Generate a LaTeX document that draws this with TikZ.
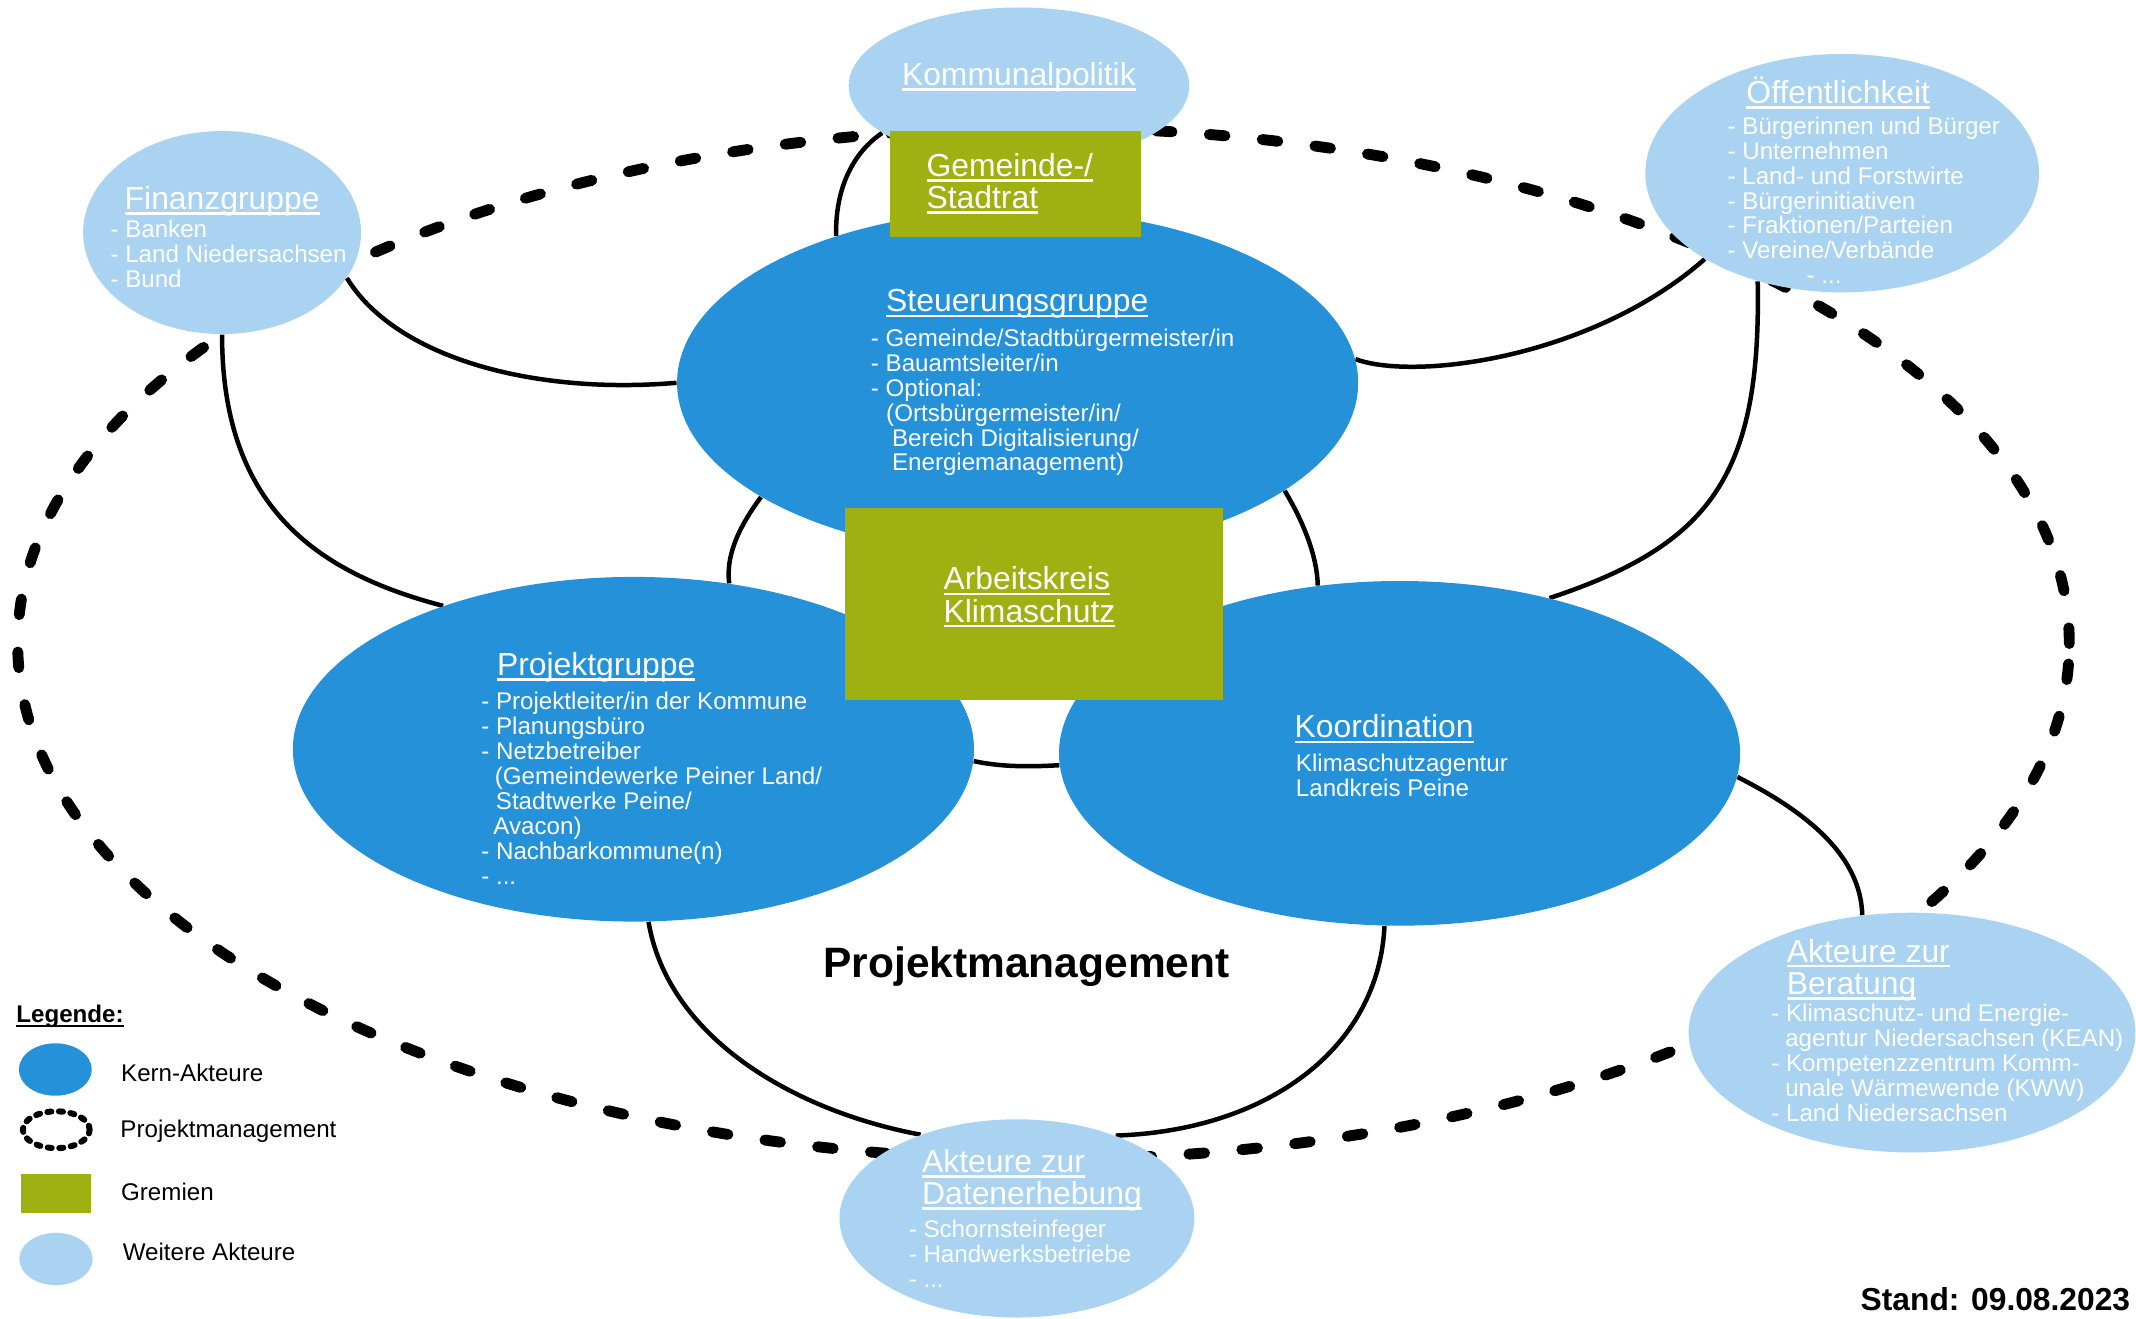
\documentclass[tikz,border=0pt]{standalone}
\usepackage{fontspec}
\setmainfont{Liberation Sans}
\usepackage{xcolor}
\usepackage{tikz}
\usetikzlibrary{shapes.geometric,backgrounds}

\newcommand{\hdul}[1]{\setbox0\hbox{#1}\rlap{\rule[-0.17em]{\wd0}{0.08em}}\box0}
\newcommand{\headfont}{\fontsize{13.31pt}{13.49pt}\selectfont}
\newcommand{\itemfont}{\fontsize{10.08pt}{10.41pt}\selectfont}

\begin{document}
\begin{tikzpicture}[
  x=0.2mm,y=-0.2mm,
  kern/.style={ellipse,fill=kernblue,inner sep=0pt},
  weitere/.style={ellipse,fill=weiterblue,inner sep=0pt},
  gremium/.style={rectangle,fill=gremiumgreen,inner sep=0pt},
  head/.style={anchor=base west,inner sep=0pt,text=white,align=left,font=\headfont},
  items/.style={anchor=base west,inner sep=0pt,text=white,align=left,font=\itemfont},
  legtext/.style={anchor=base west,inner sep=0pt,font=\itemfont},
  link/.style={line width=0.66mm},
  pm/.style={line width=1.6mm,line cap=round,dash pattern=on 2.3mm off 5.5mm}]

  \definecolor{kernblue}{HTML}{2491D9}
  \definecolor{weiterblue}{HTML}{A9D3F0}
  \definecolor{gremiumgreen}{HTML}{9FB013}

  \useasboundingbox (0,0) rectangle (1568,968);

  % ------------------- actors ----------------------
  \node[weitere,minimum width=50mm,minimum height=23mm]     (kommunal) at (748,63) {};
  \node[kern,minimum width=100mm,minimum height=50.8mm]     (steuer)   at (747,281) {};
  \node[gremium,minimum width=36.8mm,minimum height=15.6mm] (gemeinde) at (745.6,134.8) {};
  \node[kern,minimum width=100mm,minimum height=50.6mm]     (projekt)  at (465,550) {};
  \node[kern,minimum width=100mm,minimum height=50.6mm]     (koord)    at (1027.4,553) {};
  \node[gremium,minimum width=55.5mm,minimum height=28.1mm] (arbeit)   at (759,443.5) {};
  \node[weitere,minimum width=40.8mm,minimum height=29.8mm] (finanz)   at (163,170.7) {};
  \node[weitere,minimum width=57.8mm,minimum height=35mm]   (oeff)     at (1352.3,127.1) {};
  \node[weitere,minimum width=65.6mm,minimum height=35.2mm] (beratung) at (1403.6,758) {};
  \node[weitere,minimum width=52.1mm,minimum height=29.1mm] (daten)    at (746.5,894.4) {};

  % ------------------- links ----------------------
  \begin{scope}[on background layer]
    \draw[link] (finanz.-20.5) .. controls (290,262) and (390,290) .. (steuer.180);
    \draw[link] (finanz.south) .. controls (163,370) and (230,420) .. (projekt.143.3);
    \draw[link] (kommunal.-161) .. controls (622,115) and (613,145) .. (steuer.141);
    \draw[link] (steuer.4) .. controls (1040,280) and (1170,262) .. (oeff.-148);
    \draw[link] (oeff.-128) .. controls (1293,350) and (1255,400) .. (koord.46.4);
    \draw[link] (steuer.-156) .. controls (540,390) and (533,410) .. (projekt.60.5);
    \draw[link] (steuer.-22.5) .. controls (958,385) and (967,410) .. (koord.116.2);
    \draw[link] (projekt.-2) .. controls (735,563) and (755,563) .. (koord.-178.6);
    \draw[link] (projekt.-85) .. controls (490,760) and (580,815) .. (daten.139.3);
    \draw[link] (koord.-95.6) .. controls (1012,770) and (930,830) .. (daten.40.9);
    \draw[link] (koord.-4.7) .. controls (1330,598) and (1366,630) .. (beratung.113.3);

    \draw[pm] (766,472.4) ellipse [x radius=150.6mm,y radius=75.72mm];
  \end{scope}

  % ------------------- texts (placed at the baseline of the last line) ----------------------
  \node[head] (kommunaltitle) at (661.8,62.5) {\hdul{Kommunalpolitik}};
  \node[head] (gemeindetitle) at (679.8,153) {\hdul{Gemeinde-/}\\\hdul{Stadtrat}};

  \node[head]  (finanztitle) at (91.2,153.5) {\hdul{Finanzgruppe}};
  \node[items] (finanzlist)  at (80.8,210.8) {- Banken\\- Land Niedersachsen\\- Bund};

  \node[head]  (oefftitle) at (1281.7,75.8) {\hdul{Öffentlichkeit}};
  \node[items] (oefflist)  at (1267.9,208.3) {- Bürgerinnen und Bürger\\- Unternehmen\\- Land- und Forstwirte\\- Bürgerinitiativen\\- Fraktionen/Parteien\\- Vereine/Verbände\\\hspace*{11.6mm}- ...};

  \node[head]  (steuertitle) at (650.2,229) {\hdul{Steuerungsgruppe}};
  \node[items] (steuerlist)  at (639,345.7) {- Gemeinde/Stadtbürgermeister/in\\- Bauamtsleiter/in\\- Optional:\\\hspace*{2.24mm}(Ortsbürgermeister/in/\\\hspace*{3.1mm}Bereich Digitalisierung/\\\hspace*{3.1mm}Energiemanagement)};

  \node[head] (arbeittitle) at (692.3,456.6) {\hdul{Arbeitskreis}\\\hdul{Klimaschutz}};

  \node[head]  (projekttitle) at (364.5,495.7) {\hdul{Projektgruppe}};
  \node[items] (projektlist)  at (353,649) {- Projektleiter/in der Kommune\\- Planungsbüro\\- Netzbetreiber\\\hspace*{1.98mm}(Gemeindewerke Peiner Land/\\\hspace*{2.14mm}Stadtwerke Peine/\\\hspace*{1.78mm}Avacon)\\- Nachbarkommune(n)\\- ...};

  \node[head]  (koordtitle) at (950,541.5) {\hdul{Koordination}};
  \node[items] (koordlist)  at (951,584.4) {Klimaschutzagentur\\Landkreis Peine};

  \node[head]  (beratungtitle) at (1311.4,729.9) {\hdul{Akteure zur}\\\hdul{Beratung}};
  \node[items] (beratunglist)  at (1300,822.9) {- Klimaschutz- und Energie-\\\hspace*{2.04mm}agentur Niedersachsen (KEAN)\\- Kompetenzzentrum Komm-\\\hspace*{2.04mm}unale Wärmewende (KWW)\\- Land Niedersachsen};

  \node[head]  (datentitle) at (676.6,884.1) {\hdul{Akteure zur}\\\hdul{Datenerhebung}};
  \node[items] (datenlist)  at (666.8,945.3) {- Schornsteinfeger\\- Handwerksbetriebe\\- ...};

  \node[anchor=base west,inner sep=0pt,font=\fontsize{17.75pt}{18pt}\selectfont\bfseries] (pmtitle) at (604.1,717.5) {Projektmanagement};
  \node[anchor=base east,inner sep=0pt,font=\fontsize{13.26pt}{13.5pt}\selectfont\bfseries] (stand) at (1564,961.8) {Stand: 09.08.2023};

  % ------------------- legend ----------------------
  \node[legtext,font=\itemfont\bfseries] (legtitle) at (11.7,750.7) {\hdul{Legende:}};

  \node[kern,minimum width=10.7mm,minimum height=7.7mm] (kernleg) at (40.6,785.1) {};
  \node[ellipse,draw,inner sep=0pt,minimum width=9.8mm,minimum height=5.4mm,line width=0.88mm,line cap=round,dash pattern=on 0.6mm off 1.1mm] (pmleg) at (41.3,829.3) {};
  \node[gremium,minimum width=10.24mm,minimum height=5.76mm] (gremleg) at (41,876.3) {};
  \node[weitere,minimum width=10.76mm,minimum height=7.68mm] (weitleg) at (41.1,924.2) {};

  \node[legtext] (kernlegtext) at (88.6,794) {Kern-Akteure};
  \node[legtext] (pmlegtext)   at (88.1,835.1) {Projektmanagement};
  \node[legtext] (gremlegtext) at (88.6,881.1) {Gremien};
  \node[legtext] (weitlegtext) at (89.8,925.2) {Weitere Akteure};
\end{tikzpicture}
\end{document}
